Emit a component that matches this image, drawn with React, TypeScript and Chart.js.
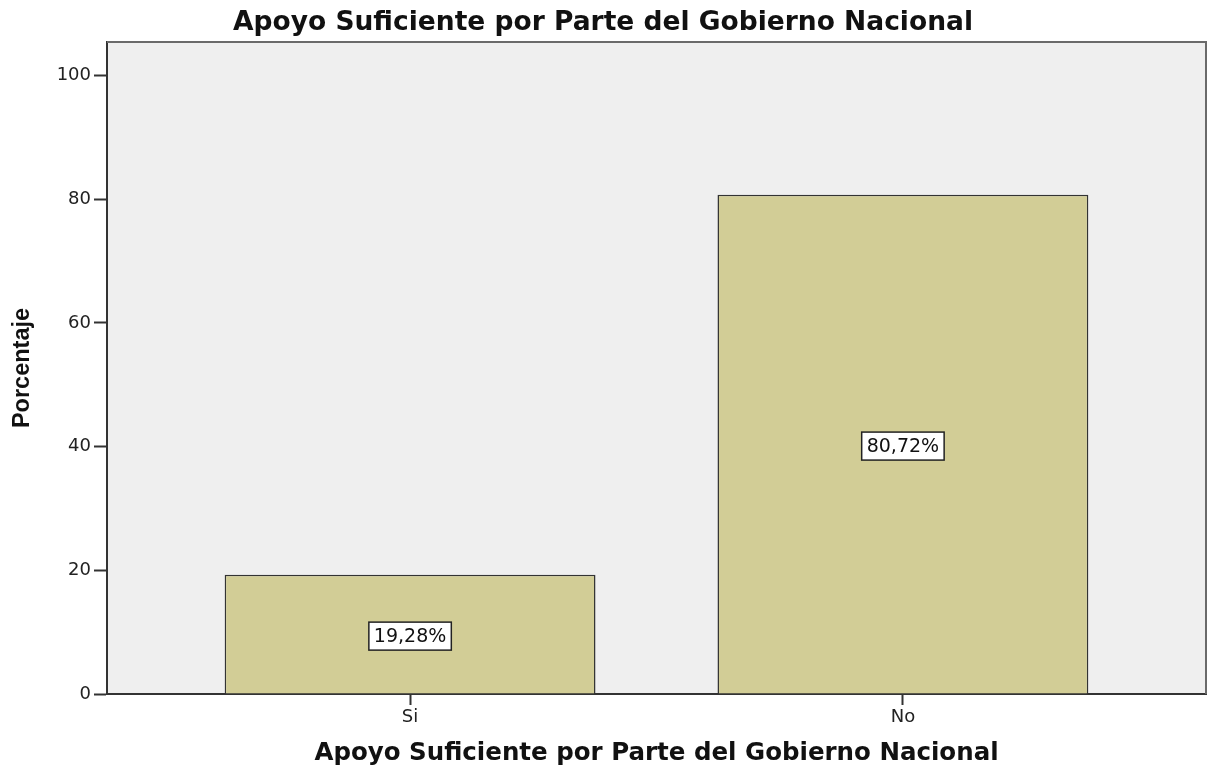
import React, { useEffect, useRef } from "react";
import { Chart, registerables } from "chart.js";

Chart.register(...registerables);

// ---- Data ----
const chartTitle = "Apoyo Suficiente por Parte del Gobierno Nacional";
const xAxisTitle = "Apoyo Suficiente por Parte del Gobierno Nacional";
const yAxisTitle = "Porcentaje";
const categories = ["Si", "No"];
const percentages = [19.28, 80.72];
const valueLabels = ["19,28%", "80,72%"];
const yTickValues = [0, 20, 40, 60, 80, 100];

const W = 1212;
const H = 767;

const plotFrame = {
  id: "plotFrame",
  beforeDraw(chart: any) {
    const { ctx, chartArea } = chart;
    ctx.save();
    ctx.fillStyle = "#ffffff";
    ctx.fillRect(0, 0, chart.width, chart.height);
    ctx.fillStyle = "#efefef";
    ctx.fillRect(
      chartArea.left,
      chartArea.top,
      chartArea.right - chartArea.left,
      chartArea.bottom - chartArea.top
    );
    ctx.restore();
  },
  afterDraw(chart: any) {
    const { ctx, chartArea } = chart;
    ctx.save();
    ctx.strokeStyle = "#6a6a6a";
    ctx.lineWidth = 2;
    ctx.beginPath();
    ctx.moveTo(chartArea.left, chartArea.top);
    ctx.lineTo(chartArea.right, chartArea.top);
    ctx.lineTo(chartArea.right, chartArea.bottom);
    ctx.stroke();
    ctx.restore();
  },
};

const boxedLabels = {
  id: "boxedLabels",
  afterDatasetsDraw(chart: any) {
    const { ctx } = chart;
    const meta = chart.getDatasetMeta(0);
    ctx.save();
    ctx.font = '19px "DejaVu Sans", sans-serif';
    ctx.textAlign = "center";
    ctx.textBaseline = "middle";
    meta.data.forEach((el: any, i: number) => {
      const { x, y, base } = el.getProps(["x", "y", "base"], true);
      const cy = (y + base) / 2 + 2;
      const text = valueLabels[i];
      const tw = ctx.measureText(text).width;
      const bw = tw + 10;
      const bh = 28;
      ctx.fillStyle = "#ffffff";
      ctx.fillRect(x - bw / 2, cy - bh / 2, bw, bh);
      ctx.strokeStyle = "#222222";
      ctx.lineWidth = 1.5;
      ctx.strokeRect(x - bw / 2, cy - bh / 2, bw, bh);
      ctx.fillStyle = "#111111";
      ctx.fillText(text, x, cy + 1);
    });
    ctx.restore();
  },
};

export default function App() {
  const canvasRef = useRef<HTMLCanvasElement | null>(null);

  useEffect(() => {
    document.body.style.margin = "0";
    const canvas = canvasRef.current;
    if (!canvas) return;
    const chart = new Chart(canvas, {
      type: "bar",
      data: {
        datasets: [
          {
            label: yAxisTitle,
            data: percentages.map((v, i) => ({ x: i, y: v })),
            backgroundColor: "#d2cd96",
            borderColor: "#333333",
            borderWidth: 1.5,
            barPercentage: 0.7525,
            categoryPercentage: 1,
          },
        ],
      },
      options: {
        responsive: false,
        animation: false,
        devicePixelRatio: 1,
        layout: { padding: { left: 0, right: 6, top: 0, bottom: 0 } },
        plugins: {
          legend: { display: false },
          tooltip: { enabled: false },
          title: {
            display: true,
            text: chartTitle,
            color: "#111111",
            font: { family: '"DejaVu Sans", sans-serif', size: 26.5, weight: "bold", lineHeight: 1.2 },
            padding: { top: 7, bottom: 3.2 },
          },
        },
        scales: {
          x: {
            type: "linear",
            offset: false,
            min: -0.615,
            max: 1.615,
            afterFit: (s: any) => {
              s.height = 73;
            },
            afterBuildTicks: (s: any) => {
              s.ticks = categories.map((_, i) => ({ value: i }));
            },
            ticks: {
              color: "#222222",
              font: { family: '"DejaVu Sans", sans-serif', size: 18 },
              padding: 2,
              maxRotation: 0,
              autoSkip: false,
              callback: (v: any) => categories[v] ?? "",
            },
            grid: {
              display: true,
              offset: false,
              drawOnChartArea: false,
              drawTicks: true,
              tickLength: 11,
              tickColor: "#333333",
              tickWidth: 2,
            },
            border: { display: true, color: "#333333", width: 2 },
            title: {
              display: true,
              text: xAxisTitle,
              color: "#111111",
              font: { family: '"DejaVu Sans", sans-serif', size: 24.5, weight: "bold", lineHeight: 1 },
              padding: { top: 0, bottom: 1 },
            },
          },
          y: {
            type: "linear",
            min: 0,
            max: 105.4,
            afterFit: (s: any) => {
              s.width = 107;
            },
            afterBuildTicks: (s: any) => {
              s.ticks = yTickValues.map((v) => ({ value: v }));
            },
            ticks: {
              color: "#222222",
              font: { family: '"DejaVu Sans", sans-serif', size: 18 },
              padding: 3,
            },
            grid: {
              display: true,
              drawOnChartArea: false,
              drawTicks: true,
              tickLength: 13,
              tickColor: "#333333",
              tickWidth: 2,
            },
            border: { display: true, color: "#333333", width: 2 },
            title: {
              display: true,
              text: yAxisTitle,
              color: "#111111",
              font: {
                family: '"Liberation Sans", Arial, sans-serif',
                size: 23.5,
                weight: "bold",
                lineHeight: 1,
              },
              padding: { top: 11, bottom: 0 },
            },
          },
        },
      } as any,
      plugins: [plotFrame, boxedLabels],
    });
    return () => chart.destroy();
  }, []);

  return (
    <div style={{ position: "absolute", left: 0, top: 0, width: W, height: H }}>
      <canvas ref={canvasRef} width={W} height={H} style={{ width: W, height: H, display: "block" }} />
    </div>
  );
}
